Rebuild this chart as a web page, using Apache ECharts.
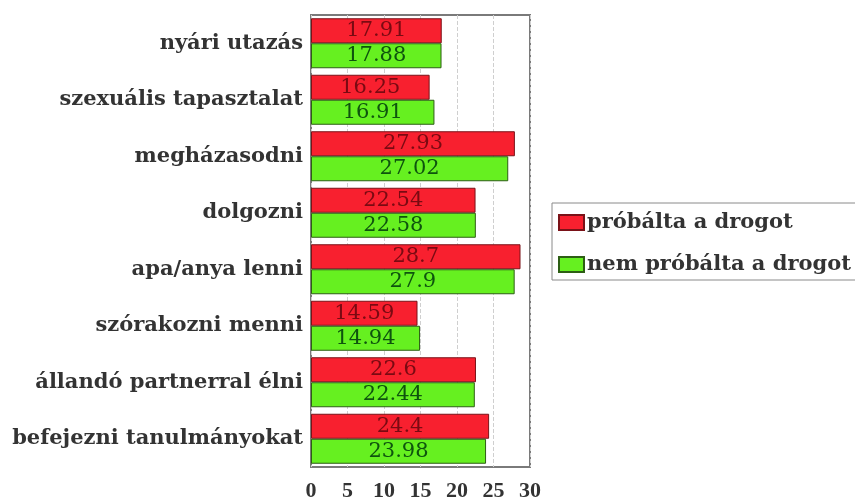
<!DOCTYPE html>
<html>
<head>
<meta charset="utf-8">
<script src="https://cdn.jsdelivr.net/npm/echarts@6/dist/echarts.min.js"></script>
<style>
  html, body { margin: 0; padding: 0; background: #fff; }
  #chart { width: 855px; height: 502px; }
</style>
</head>
<body>
<div id="chart"></div>
<script>
// Categories listed top to bottom
const categories = [
  'nyári utazás',
  'szexuális tapasztalat',
  'megházasodni',
  'dolgozni',
  'apa/anya lenni',
  'szórakozni menni',
  'állandó partnerral élni',
  'befejezni tanulmányokat'
];
const triedValues = [17.91, 16.25, 27.93, 22.54, 28.7, 14.59, 22.6, 24.4];
const notTriedValues = [17.88, 16.91, 27.02, 22.58, 27.9, 14.94, 22.44, 23.98];
const seriesNames = ['próbálta a drogot', 'nem próbálta a drogot'];
const xTicks = { min: 0, max: 30, interval: 5 };

const FONT = '"DejaVu Serif", serif';
const TICK_FONT = '"Liberation Serif", "DejaVu Serif", serif';
const TEXT_COLOR = '#333333';

const chart = echarts.init(document.getElementById('chart'), null, { renderer: 'canvas' });

function barSeries(name, values, fill, border, textColor) {
  return {
    name: name,
    type: 'bar',
    data: values,
    barWidth: 25,
    barGap: '0%',
    itemStyle: { color: fill, borderColor: border, borderWidth: 1 },
    label: {
      show: true,
      position: 'inside',
      color: textColor,
      fontFamily: FONT,
      fontSize: 21
    },
    emphasis: { disabled: true }
  };
}

chart.setOption({
  animation: false,
  backgroundColor: '#ffffff',
  grid: {
    left: 311, right: 325, top: 15, bottom: 34,
    show: true,
    borderColor: '#7a7a7a',
    borderWidth: 2,
    containLabel: false
  },
  legend: {
    data: seriesNames,
    orient: 'vertical',
    left: 552,
    top: 203,
    padding: [9, 20, 5, 6],
    itemGap: 21,
    itemWidth: 25,
    itemHeight: 15,
    icon: 'rect',
    borderColor: '#8a8a8a',
    borderWidth: 1,
    textStyle: { fontFamily: FONT, fontSize: 21, fontWeight: 'bold', color: TEXT_COLOR, padding: [0, 0, 0, -2] }
  },
  xAxis: {
    type: 'value',
    min: xTicks.min,
    max: xTicks.max,
    interval: xTicks.interval,
    axisLine: { show: false },
    axisTick: { show: false },
    axisLabel: { fontFamily: TICK_FONT, fontSize: 22, fontWeight: 'bold', color: TEXT_COLOR, margin: 13 },
    splitLine: { show: true, lineStyle: { type: 'dashed', color: '#cfcfcf', width: 1 } }
  },
  yAxis: {
    type: 'category',
    data: categories,
    inverse: true,
    axisLine: { show: false },
    axisTick: { show: false },
    splitLine: { show: false },
    axisLabel: { fontFamily: FONT, fontSize: 21, fontWeight: 'bold', color: TEXT_COLOR, margin: 8 }
  },
  series: [
    barSeries(seriesNames[0], triedValues, '#f8202f', '#7a1218', '#7a0a12'),
    barSeries(seriesNames[1], notTriedValues, '#66f020', '#2d5e14', '#0e540e')
  ]
});
</script>
</body>
</html>
